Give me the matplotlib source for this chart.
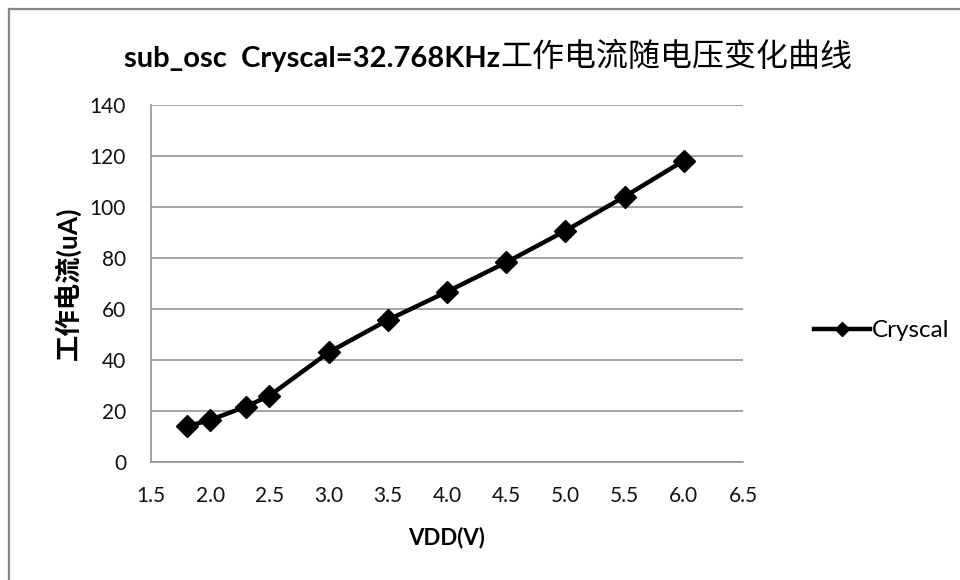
import matplotlib.pyplot as plt
from matplotlib.lines import Line2D

plt.rcParams['font.family'] = ['Lato', 'Noto Sans CJK SC', 'DejaVu Sans']

# supply voltage (V) and measured operating current (uA)
vdd = [1.8, 2.0, 2.3, 2.5, 3.0, 3.5, 4.0, 4.5, 5.0, 5.5, 6.0]
current = [14.0, 16.5, 21.7, 26.0, 43.0, 55.7, 66.8, 78.3, 90.7, 104.1, 118.2]
series_name = "Cryscal"

x_ticks = [1.5, 2.0, 2.5, 3.0, 3.5, 4.0, 4.5, 5.0, 5.5, 6.0, 6.5]
y_ticks = [0, 20, 40, 60, 80, 100, 120, 140]

title_en = "sub_osc  Cryscal=32.768KHz"
title_cn = "工作电流随电压变化曲线"
y_label = "工作电流(uA)"
x_label = "VDD(V)"

fig = plt.figure(figsize=(9.6, 5.8), dpi=100)
ax = fig.add_axes([0.1573, 0.2034, 0.6167, 0.6155])

ax.plot(vdd, current, color="black", linewidth=3.2, marker="D",
        markersize=11, label=series_name, zorder=3)

ax.set_xlim(1.5, 6.5)
ax.set_ylim(0, 140)
ax.set_xticks(x_ticks)
ax.set_xticklabels([f"{t:.1f}" for t in x_ticks])
ax.set_yticks(y_ticks)
ax.tick_params(length=0, labelsize=15, colors="#111111")
ax.tick_params(axis="y", pad=18)
ax.tick_params(axis="x", pad=17)

ax.grid(axis="y", color="#8c8c8c", linewidth=1.1)
ax.set_axisbelow(True)
for side in ["top", "right"]:
    ax.spines[side].set_visible(False)
for side in ["left", "bottom"]:
    ax.spines[side].set_color("#8c8c8c")
    ax.spines[side].set_linewidth(1.1)

ax.set_xlabel(x_label, fontsize=16, fontweight="bold", labelpad=15)
ax.set_ylabel(y_label, fontsize=19, fontweight="bold", labelpad=6)

# title: bold latin part followed by regular chinese part
t1 = fig.text(0.5, 0.885, title_en, fontsize=21, fontweight="bold",
              ha="right", va="baseline")
fig.canvas.draw()
t2 = ax.annotate(title_cn, xy=(1, 0), xycoords=t1, fontsize=23,
                 va="bottom", ha="left", annotation_clip=False)
fig.canvas.draw()
w1 = t1.get_window_extent().width
w2 = t2.get_window_extent().width
cx = 488 / 960
t1.set_x(cx + (w1 - (w1 + w2) / 2) / 960)

handle = Line2D([], [], color="black", linewidth=3.2, marker="D", markersize=7)
fig.legend([handle], [series_name], loc="center left",
           bbox_to_anchor=(0.825, 0.43), frameon=False, fontsize=17.5,
           handlelength=2.3, handletextpad=0.1)

# outer chart border
fig.add_artist(Line2D([9 / 960, 9 / 960], [0, 1 - 9 / 580],
                      transform=fig.transFigure, color="#888888", linewidth=1.6))
fig.add_artist(Line2D([9 / 960, 1], [1 - 9 / 580, 1 - 9 / 580],
                      transform=fig.transFigure, color="#888888", linewidth=1.6))

fig.savefig("out.png", dpi=100)
